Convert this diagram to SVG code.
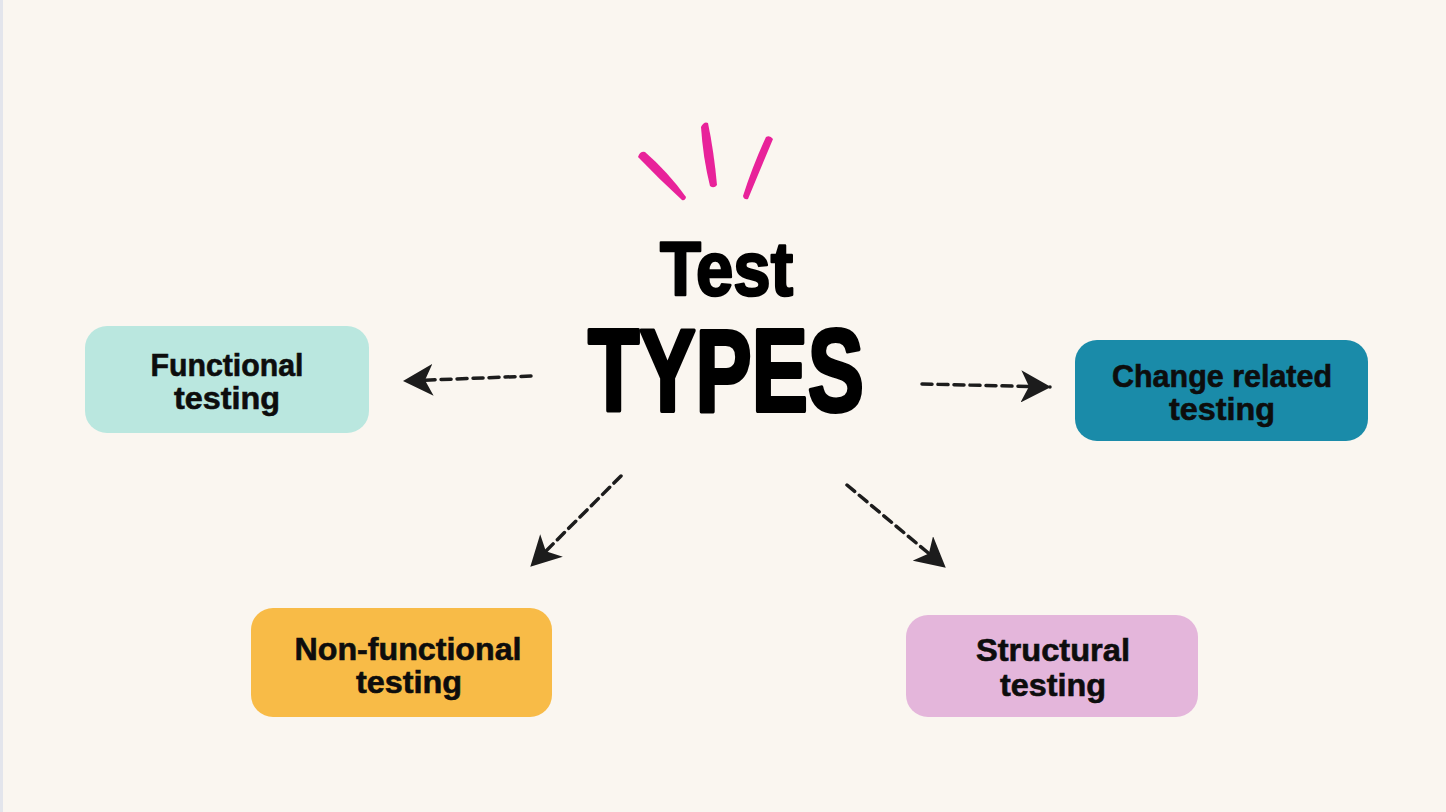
<svg xmlns="http://www.w3.org/2000/svg" width="1446" height="812" viewBox="0 0 1446 812">
  <defs>
    <style>
      .bg { fill: #FAF6F0; }
      .node-label { font-family: "Liberation Sans", Arial, sans-serif; font-weight: bold; font-size: 31px; fill: #0D0D0D; text-anchor: middle; stroke: #0D0D0D; stroke-width: 0.6; }
      .title { font-family: "Liberation Sans", Arial, sans-serif; font-weight: bold; fill: #000000; stroke: #000000; stroke-linejoin: round; }
      .conn { fill: none; stroke: #1C1C1C; stroke-width: 3.5; stroke-dasharray: 10 6; stroke-linecap: round; }
      .burst { fill: #E8229A; }
    </style>
    <marker id="arrow" markerUnits="userSpaceOnUse" viewBox="0 0 30 32" refX="29" refY="16" markerWidth="30" markerHeight="32" orient="auto">
      <path d="M0,0 L30,16 L0,32 L8,16 Z" fill="#1C1C1C"/>
    </marker>
  </defs>

  <rect class="bg" x="0" y="0" width="1446" height="812"/>
  <rect x="0" y="0" width="3" height="812" fill="#E3E5EC"/>

  <g id="burst">
    <path class="burst" d="M638,157 Q640,151 645,152 Q668,172 686,197 Q685,201 682,200 Q660,180 638,157 Z"/>
    <path class="burst" d="M701,127 Q704,121 708,123 Q714,152 717,185 Q714,189 710,186 Q703,158 701,127 Z"/>
    <path class="burst" d="M766,137 Q770,135 773,139 Q760,170 748,199 Q744,200 743,196 Q753,165 766,137 Z"/>
  </g>

  <g id="title">
    <text class="title" x="660" y="295" font-size="76" stroke-width="2.5" textLength="133" lengthAdjust="spacingAndGlyphs">Test</text>
    <text class="title" x="588" y="411" font-size="116" stroke-width="4" textLength="276" lengthAdjust="spacingAndGlyphs">TYPES</text>
  </g>

  <g id="connectors">
    <path class="conn" d="M531,376 L404,381" marker-end="url(#arrow)"/>
    <path class="conn" d="M922,384 L1050,387" marker-end="url(#arrow)"/>
    <path class="conn" d="M621,476 L531,566" marker-end="url(#arrow)"/>
    <path class="conn" d="M847,485 L945,567" marker-end="url(#arrow)"/>
  </g>

  <g id="node-functional">
    <rect x="85" y="326" width="284" height="107" rx="22" fill="#BAE7DF"/>
    <text class="node-label" x="227" y="376" textLength="153" lengthAdjust="spacingAndGlyphs">Functional</text>
    <text class="node-label" x="227" y="409" textLength="106" lengthAdjust="spacingAndGlyphs">testing</text>
  </g>

  <g id="node-change">
    <rect x="1075" y="340" width="293" height="101" rx="22" fill="#1A8BA9"/>
    <text class="node-label" x="1222" y="387" textLength="220" lengthAdjust="spacingAndGlyphs">Change related</text>
    <text class="node-label" x="1222" y="420" textLength="106" lengthAdjust="spacingAndGlyphs">testing</text>
  </g>

  <g id="node-nonfunctional">
    <rect x="251" y="608" width="301" height="109" rx="22" fill="#F8BB47"/>
    <text class="node-label" x="408" y="660" textLength="227" lengthAdjust="spacingAndGlyphs">Non-functional</text>
    <text class="node-label" x="409" y="693" textLength="106" lengthAdjust="spacingAndGlyphs">testing</text>
  </g>

  <g id="node-structural">
    <rect x="906" y="615" width="292" height="102" rx="22" fill="#E4B6DB"/>
    <text class="node-label" x="1053" y="661" textLength="154" lengthAdjust="spacingAndGlyphs">Structural</text>
    <text class="node-label" x="1053" y="696" textLength="106" lengthAdjust="spacingAndGlyphs">testing</text>
  </g>
</svg>
